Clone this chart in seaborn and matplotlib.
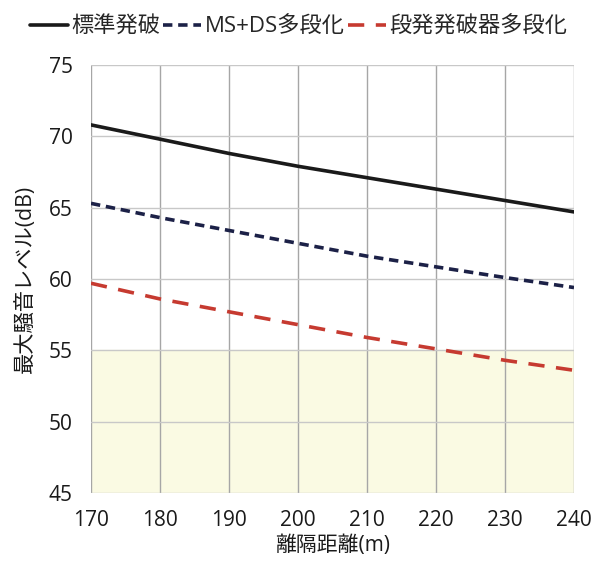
import matplotlib
matplotlib.use("Agg")
import matplotlib.pyplot as plt
import seaborn as sns
import pandas as pd

# Separation distance (m)
distance = [170, 180, 190, 200, 210, 220, 230, 240]

# Maximum noise level (dB) for each blasting method
standard = [70.8, 69.8, 68.8, 67.9, 67.1, 66.3, 65.5, 64.7]
ms_ds = [65.3, 64.3, 63.4, 62.5, 61.6, 60.85, 60.1, 59.4]
step_det = [59.7, 58.6, 57.7, 56.8, 55.9, 55.1, 54.3, 53.6]

series_names = ["標準発破", "MS+DS多段化", "段発発破器多段化"]
y_ticks = [45, 50, 55, 60, 65, 70, 75]
x_ticks = [170, 180, 190, 200, 210, 220, 230, 240]
limit_level = 55

rows = []
for name, vals in zip(series_names, [standard, ms_ds, step_det]):
    for d, v in zip(distance, vals):
        rows.append({"離隔距離": d, "騒音": v, "方法": name})
df = pd.DataFrame(rows)

sns.set_style("white")
plt.rcParams["font.family"] = ["Open Sans", "Noto Sans CJK JP", "DejaVu Sans"]

fig = plt.figure(figsize=(5.97, 5.64), dpi=100)
ax = fig.add_axes([0.1524, 0.1259, 0.8091, 0.7589])

palette = {series_names[0]: "#1a1a1a", series_names[1]: "#1c2147", series_names[2]: "#c63a30"}
dashes = {series_names[0]: "", series_names[1]: (2.6, 1.6), series_names[2]: (4.5, 3.2)}

ax.axhspan(45, limit_level, color="#fafae3", zorder=0)

sns.lineplot(data=df, x="離隔距離", y="騒音", hue="方法", style="方法",
             palette=palette, dashes=dashes, linewidth=2.6, ax=ax, legend=True)

ax.set_xlim(170, 240)
ax.set_ylim(45, 75)
ax.set_xticks(x_ticks)
ax.set_yticks(y_ticks)
ax.grid(True, axis="x", color="#a6a6a6", linewidth=1.0, zorder=1)
ax.grid(True, axis="y", color="#c8c8c8", linewidth=1.0, zorder=1)
ax.set_axisbelow(True)
for s in ax.spines.values():
    s.set_visible(False)
ax.tick_params(axis="both", direction="out", length=6, width=1.0, color="#a6a6a6",
               labelsize=15, labelcolor="#1a1a1a", pad=6)
ax.tick_params(axis="y", pad=7)

ax.set_xlabel("離隔距離(m)", fontsize=15, color="#1a1a1a", labelpad=3)
ax.set_ylabel("最大騒音レベル(dB)", fontsize=15.3, color="#1a1a1a", labelpad=9)

handles, labels = ax.get_legend_handles_labels()
ax.get_legend().remove()
fig.legend(handles, labels, loc="upper center", bbox_to_anchor=(0.5, 0.995), ncol=3,
           frameon=False, fontsize=16, handlelength=1.7, handletextpad=0.15,
           columnspacing=0.15, borderaxespad=0.2)

fig.savefig("out.png", dpi=100)
